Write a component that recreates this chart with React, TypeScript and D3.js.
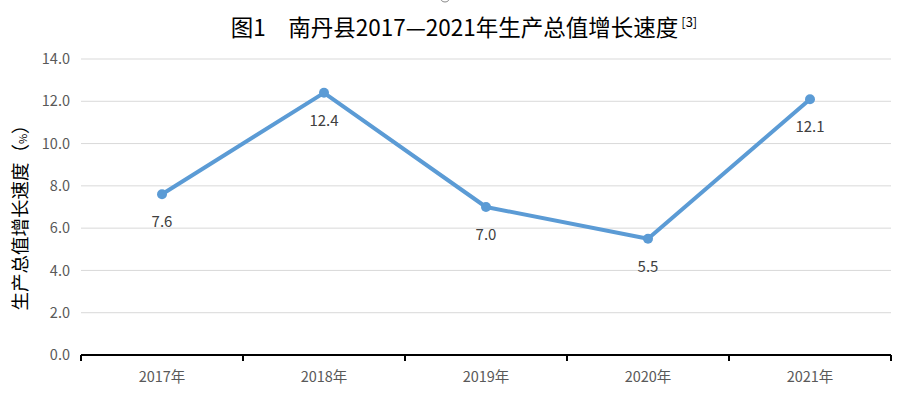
import React from 'react';
import * as d3 from 'd3';

const years = ['2017年', '2018年', '2019年', '2020年', '2021年'];
const growth = [7.6, 12.4, 7.0, 5.5, 12.1];
const yTicks = [0, 2, 4, 6, 8, 10, 12, 14];

const W = 901;
const H = 404;
const margin = { left: 81, right: 10, top: 59, bottom: 49 };

const App = () => {
  const x = d3.scaleBand<string>()
    .domain(years)
    .range([margin.left, W - margin.right]);
  const y = d3.scaleLinear()
    .domain([0, 14])
    .range([H - margin.bottom, margin.top]);

  const line = d3.line<number>()
    .x((_, i) => (x(years[i]) as number) + x.bandwidth() / 2)
    .y(d => y(d));

  const font = '"Microsoft YaHei", "Noto Sans CJK SC", sans-serif';
  const base = y(0);

  return (
    <svg width={W} height={H} style={{ position: 'absolute', left: 0, top: 0 }}>
      <rect width={W} height={H} fill="#fff" />
      {/* partial circle at top edge */}
      <circle cx={445} cy={-3} r={5} fill="none" stroke="#888" strokeWidth={1} />

      <text x={464} y={36} textAnchor="middle" fontFamily={font} fontSize={22.5} fill="#000">
        图1　南丹县2017—2021年生产总值增长速度
        <tspan fontSize={13} dx={3} dy={-9}>[3]</tspan>
      </text>

      {yTicks.map(t => (
        <g key={t}>
          {t > 0 && (
            <line x1={margin.left} x2={W - margin.right} y1={y(t)} y2={y(t)} stroke="#d9d9d9" strokeWidth={1} />
          )}
          <text x={70} y={y(t)} dy="0.35em" textAnchor="end" fontFamily={font} fontSize={14.5} fill="#595959">
            {t.toFixed(1)}
          </text>
        </g>
      ))}

      <text
        transform={`translate(27, 213) rotate(-90)`}
        textAnchor="middle"
        fontFamily={font}
        fontSize={18.5}
        fill="#000"
      >
        生产总值增长速度<tspan fontSize={18.5}>（</tspan><tspan fontSize={11}>%</tspan><tspan fontSize={18.5}>）</tspan>
      </text>

      <line x1={margin.left} x2={W - margin.right} y1={base} y2={base} stroke="#000" strokeWidth={2} />
      {[...years.map(d => x(d) as number), W - margin.right].map((px, i) => (
        <line key={i} x1={px} x2={px} y1={base} y2={base + 6} stroke="#000" strokeWidth={2} />
      ))}
      {years.map(d => (
        <text key={d} x={(x(d) as number) + x.bandwidth() / 2} y={base + 27} textAnchor="middle"
          fontFamily={font} fontSize={14.5} fill="#595959">
          {d}
        </text>
      ))}

      <path d={line(growth) || ''} fill="none" stroke="#5B9BD5" strokeWidth={4} strokeLinejoin="round" />
      {growth.map((v, i) => {
        const cx = (x(years[i]) as number) + x.bandwidth() / 2;
        return (
          <g key={i}>
            <circle cx={cx} cy={y(v)} r={5} fill="#5B9BD5" />
            <text x={cx} y={y(v) + 33} textAnchor="middle" fontFamily={font} fontSize={15} fill="#404040">
              {v.toFixed(1)}
            </text>
          </g>
        );
      })}
    </svg>
  );
};

export default App;
